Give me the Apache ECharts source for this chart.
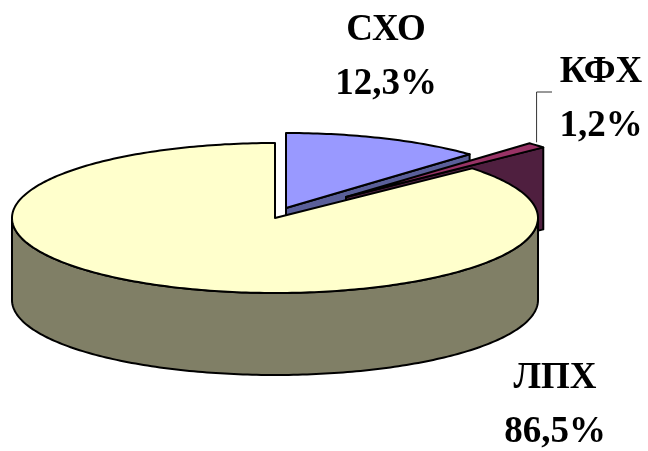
<!DOCTYPE html>
<html>
<head>
<meta charset="utf-8">
<style>html,body{margin:0;padding:0;background:#fff}#c{width:648px;height:451px}</style>
<script src="https://cdn.jsdelivr.net/npm/echarts@6/dist/echarts.min.js"></script>
</head>
<body>
<div id="c"></div>
<script>
var categories = ['СХО', 'КФХ', 'ЛПХ'];
var shares = [12.3, 1.2, 86.5];

var topColors = ['#9999FF', '#993366', '#FFFFCC'];
var wallColors = ['#5A5F99', '#4F1F3F', '#807F66'];
var sliceCentres = [[286, 208], [346, 197], [275, 218]];
var labelCentres = [[386, 57], [601, 99], [555, 405]];
var RX = 263, RY = 75, DEPTH = 82;

var total = shares.reduce(function (a, b) { return a + b; }, 0);

function pt(c, deg, dy) {
  var t = deg * Math.PI / 180;
  return [c[0] + RX * Math.sin(t), c[1] - RY * Math.cos(t) + (dy || 0)];
}
function arc(c, from, to, dy) {
  var out = [];
  var n = Math.max(2, Math.ceil(Math.abs(to - from)));
  for (var i = 0; i <= n; i++) out.push(pt(c, from + (to - from) * i / n, dy));
  return out;
}
function poly(points, fill, z) {
  return {
    type: 'polygon',
    shape: { points: points },
    style: { fill: fill, stroke: '#000', lineWidth: 2, lineJoin: 'round' }
  };
}

function renderItem(params, api) {
  var i = params.dataIndex;
  var value = api.value(0);
  var before = 0;
  for (var k = 0; k < i; k++) before += shares[k];
  var a0 = before / total * 360;
  var a1 = a0 + value / total * 360;
  var c = sliceCentres[i];
  var children = [];

  // radial face on the closing edge, seen only when it faces the viewer
  if (a1 < 90) {
    var e = pt(c, a1);
    children.push(poly([c, e, [e[0], e[1] + DEPTH], [c[0], c[1] + DEPTH]], wallColors[i]));
  }
  // outer rim, front half only
  var w0 = Math.max(a0, 90), w1 = Math.min(a1, 270);
  if (w1 > w0) {
    children.push(poly(arc(c, w0, w1, 0).concat(arc(c, w1, w0, DEPTH)), wallColors[i]));
  }
  // top face
  children.push(poly([c].concat(arc(c, a0, a1, 0)), topColors[i]));

  // leader for the thin slice
  if (value / total < 0.05) {
    var tip = pt(c, (a0 + a1) / 2);
    var lc = labelCentres[i];
    children.push({
      type: 'polyline',
      shape: { points: [[tip[0], tip[1] - 3], [tip[0], lc[1] - 7], [lc[0] - 49, lc[1] - 7]] },
      style: { fill: null, stroke: '#333', lineWidth: 1 }
    });
  }
  // label
  children.push({
    type: 'text',
    x: labelCentres[i][0],
    y: labelCentres[i][1],
    style: {
      text: categories[i] + '\n' + value.toFixed(1).replace('.', ',') + '%',
      fill: '#000',
      font: 'bold 37px "Liberation Serif"',
      lineHeight: 54,
      align: 'center',
      verticalAlign: 'middle'
    }
  });
  return { type: 'group', children: children };
}

var chart = echarts.init(document.getElementById('c'), null, { renderer: 'canvas', width: 648, height: 451 });
chart.setOption({
  animation: false,
  backgroundColor: '#fff',
  series: [{
    type: 'custom',
    coordinateSystem: 'none',
    silent: true,
    renderItem: renderItem,
    data: shares.map(function (v) { return [v]; })
  }]
});
</script>
</body>
</html>
